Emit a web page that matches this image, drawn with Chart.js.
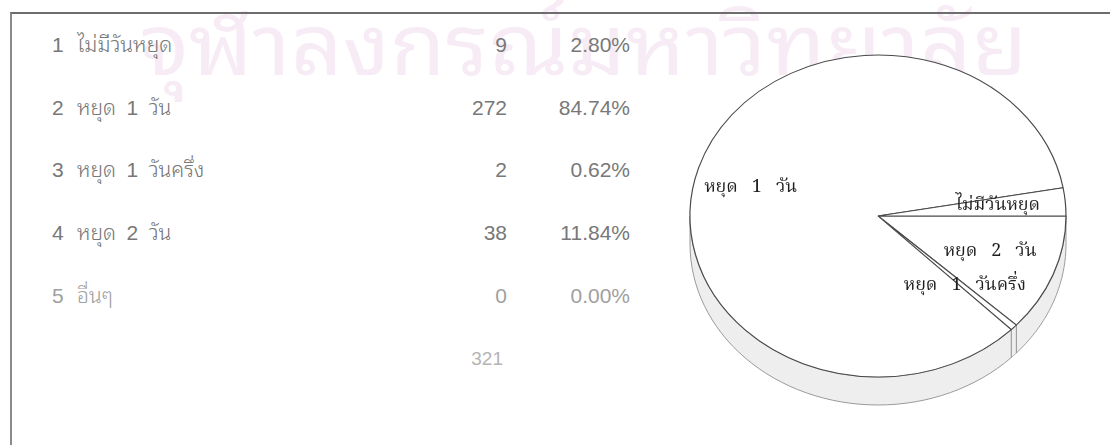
<!DOCTYPE html>
<html lang="th">
<head>
<meta charset="utf-8">
<title>วันหยุด</title>
<script src="https://cdn.jsdelivr.net/npm/chart.js@4.4.1/dist/chart.umd.min.js"></script>
<style>
  html, body { margin: 0; padding: 0; background: #fff; }
  body { width: 1110px; height: 445px; overflow: hidden; position: relative;
         font-family: "Liberation Sans", "Noto Sans Thai Looped", "Loma", sans-serif; }
  .mark { position: absolute; left: 140px; top: -31px; font-size: 85px; font-weight: 400;
          font-family: "Noto Sans Thai Looped", "Loma", sans-serif; color: #f7ecf5;
          white-space: nowrap; transform-origin: 0 0; z-index: 0; }
  .frame { position: absolute; left: 10px; top: 12px; right: -4px; bottom: -4px;
           border-top: 2px solid #6d6d6d; border-left: 2px solid #8a8a8a; z-index: 1; }
  .cell { position: absolute; font-size: 21px; line-height: 26px; color: #787878;
          white-space: nowrap; z-index: 2; }
  .lbl { font-weight: 300; }
  .dim { color: #a0a0a0; }
  .total { color: #b4b4b4; font-size: 19px; }
  #pieBox { position: absolute; left: 668px; top: 0; width: 420px; height: 432px; z-index: 2; }
</style>
</head>
<body>
<div class="mark" id="mark">จุฬาลงกรณ์มหาวิทยาลัย</div>
<div class="frame"></div>
<div id="table"></div>
<div id="pieBox"><canvas id="pie"></canvas></div>
<script>
const categories = ['ไม่มีวันหยุด', 'หยุด 1 วัน', 'หยุด 1 วันครึ่ง', 'หยุด 2 วัน', 'อื่นๆ'];
const counts = [9, 272, 2, 38, 0];
const total = 321;

// stretch the faint university name across the top band
const mark = document.getElementById('mark');
mark.style.transform = 'scaleX(' + (888 / mark.offsetWidth).toFixed(3) + ')';

// table rows on the left
const rowTop = 45, rowStep = 62.7;
const table = document.getElementById('table');
function cell(text, cls, x, y, right) {
  const d = document.createElement('div');
  d.className = 'cell ' + cls;
  d.textContent = text;
  d.style.top = (y - 13) + 'px';
  if (right) { d.style.right = (1110 - x) + 'px'; } else { d.style.left = x + 'px'; }
  table.appendChild(d);
  return d;
}
categories.forEach((name, i) => {
  const y = rowTop + i * rowStep;
  const dim = counts[i] === 0 ? ' dim' : '';
  cell(String(i + 1), 'idx' + dim, 52, y, false);
  cell(name.replace(/ /g, '\u2002'), 'lbl' + dim, 77, y, false);
  cell(String(counts[i]), 'num' + dim, 507, y, true);
  cell((counts[i] / total * 100).toFixed(2) + '%', 'pct' + dim, 630, y, true);
});
cell(String(total), 'num total', 503, rowTop + 5 * rowStep, true);

// pie runs counter-clockwise from 3 o'clock, so feed it reversed
const pieLabels = categories.slice().reverse();
const pieCounts = counts.slice().reverse();

const squash = 161 / 188;   // tilt of the top face
const depth = 28;           // thickness of the disc edge

function ellipsePath(ctx, cx, cy, r, a0, a1, dy, backwards) {
  const n = 48;
  for (let s = 0; s <= n; s++) {
    const t = backwards ? a1 - (a1 - a0) * s / n : a0 + (a1 - a0) * s / n;
    const px = cx + r * Math.cos(t);
    const py = cy + dy + r * Math.sin(t) * squash;
    if (s === 0 && !backwards) ctx.moveTo(px, py); else ctx.lineTo(px, py);
  }
}

const tiltPlugin = {
  id: 'tilt',
  beforeDatasetsDraw(chart) {
    const ctx = chart.ctx;
    const arcs = chart.getDatasetMeta(0).data;
    ctx.save();
    // side wall, only the front half shows
    arcs.forEach(arc => {
      const {x, y, startAngle, endAngle, outerRadius} = arc.getProps(['x', 'y', 'startAngle', 'endAngle', 'outerRadius'], true);
      const norm = a => ((a % (2 * Math.PI)) + 2 * Math.PI) % (2 * Math.PI);
      let a0 = norm(startAngle), a1 = a0 + (endAngle - startAngle);
      [[a0, a1], [a0 - 2 * Math.PI, a1 - 2 * Math.PI]].forEach(([b0, b1]) => {
        const s = Math.max(b0, 0), e = Math.min(b1, Math.PI);
        if (e - s <= 0.0001) return;
        ctx.beginPath();
        ellipsePath(ctx, x, y, outerRadius, s, e, 0, false);
        ellipsePath(ctx, x, y, outerRadius, s, e, depth, true);
        ctx.closePath();
        ctx.fillStyle = '#eeeeee';
        ctx.fill();
        ctx.strokeStyle = '#9a9a9a';
        ctx.lineWidth = 1;
        ctx.stroke();
      });
    });
    const c = arcs[0];
    ctx.translate(c.x, c.y);
    ctx.scale(1, squash);
    ctx.translate(-c.x, -c.y);
  },
  afterDatasetsDraw(chart) {
    const ctx = chart.ctx;
    ctx.restore();
    const arcs = chart.getDatasetMeta(0).data;
    ctx.save();
    ctx.fillStyle = '#1e1e1e';
    ctx.font = '18px "Noto Serif Thai", "Liberation Serif", serif';
    ctx.textBaseline = 'middle';
    arcs.forEach((arc, i) => {
      if (pieCounts[i] === 0) return;
      const {x, y, startAngle, endAngle, outerRadius} = arc.getProps(['x', 'y', 'startAngle', 'endAngle', 'outerRadius'], true);
      const mid = (startAngle + endAngle) / 2;
      const big = endAngle - startAngle > Math.PI;
      const r = big ? outerRadius - 6 : outerRadius * 0.64;
      const lx = x + r * Math.cos(mid);
      const ly = y + r * Math.sin(mid) * squash + (big ? 20 : 0);
      ctx.textAlign = big ? 'left' : 'center';
      ctx.fillText(pieLabels[i].replace(/ /g, '   '), lx, ly);
    });
    ctx.restore();
  }
};

new Chart(document.getElementById('pie'), {
  type: 'pie',
  data: {
    labels: pieLabels,
    datasets: [{
      data: pieCounts,
      backgroundColor: '#ffffff',
      borderColor: '#4a4a4a',
      borderWidth: 1.2
    }]
  },
  options: {
    responsive: true,
    maintainAspectRatio: false,
    animation: false,
    radius: 188,
    rotation: 90,
    layout: { padding: 0 },
    plugins: { legend: { display: false }, tooltip: { enabled: false } }
  },
  plugins: [tiltPlugin]
});
</script>
</body>
</html>
